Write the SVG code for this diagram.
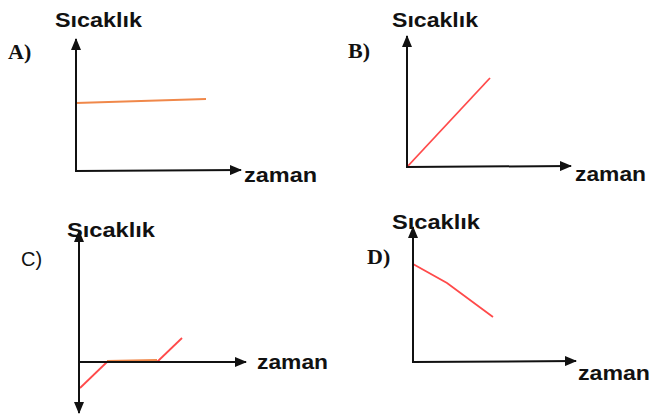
<svg xmlns="http://www.w3.org/2000/svg" width="650" height="419" viewBox="0 0 650 419">
<defs>
<marker id="ah" viewBox="0 0 12 10" refX="11" refY="5" markerWidth="12" markerHeight="10" markerUnits="userSpaceOnUse" orient="auto">
<path d="M0,0 L12,5 L0,10 Z" fill="#111"/>
</marker>
</defs>
<style>
.ax{stroke:#111;stroke-width:2;fill:none;marker-end:url(#ah)}
.ttl{font-family:"Liberation Sans",Arial,sans-serif;font-weight:bold;font-size:21px;fill:#111}
.lbl{font-family:"Liberation Serif","Times New Roman",serif;font-weight:bold;font-size:22px;fill:#111}
.lbls{font-family:"Liberation Sans",Arial,sans-serif;font-size:20px;fill:#111}
.red{stroke:#ff4a4a;stroke-width:1.8;fill:none}
.org{stroke:#f0884a;stroke-width:2;fill:none}
</style>
<rect width="650" height="419" fill="#fff"/>
<g id="panelA">
<text class="ttl" x="55" y="27" textLength="87" lengthAdjust="spacingAndGlyphs">Sıcaklık</text>
<text class="lbl" x="8" y="59">A)</text>
<text class="ttl" x="244" y="182" textLength="73" lengthAdjust="spacingAndGlyphs">zaman</text>
<line class="org" x1="76" y1="103" x2="206" y2="99"/>
</g>
<g id="panelB">
<text class="ttl" x="392" y="27" textLength="86" lengthAdjust="spacingAndGlyphs">Sıcaklık</text>
<text class="lbl" x="348" y="58">B)</text>
<text class="ttl" x="575" y="181" textLength="71" lengthAdjust="spacingAndGlyphs">zaman</text>
<line class="red" x1="407" y1="167" x2="490" y2="78"/>
</g>
<g id="panelC">
<text class="ttl" x="67" y="237" textLength="88" lengthAdjust="spacingAndGlyphs">Sıcaklık</text>
<text class="lbls" x="21" y="266">C)</text>
<text class="ttl" x="257" y="369" textLength="71" lengthAdjust="spacingAndGlyphs">zaman</text>
<polyline class="red" points="80,388 107,362"/>
<line class="org" x1="107" y1="361" x2="157" y2="360"/>
<polyline class="red" points="157,362 182,338"/>
</g>
<g id="panelD">
<text class="ttl" x="392" y="229" textLength="88" lengthAdjust="spacingAndGlyphs">Sıcaklık</text>
<text class="lbl" x="367" y="264">D)</text>
<text class="ttl" x="578" y="380" textLength="72" lengthAdjust="spacingAndGlyphs">zaman</text>
<polyline class="red" points="413,264 447,283 493,317"/>
</g>
<g id="connectors">
<line class="ax" x1="76" y1="172" x2="76" y2="39"/>
<line class="ax" x1="75" y1="171" x2="241" y2="170"/>
<line class="ax" x1="407" y1="168" x2="407" y2="36"/>
<line class="ax" x1="406" y1="167" x2="571" y2="166"/>
<line class="ax" x1="79" y1="362" x2="79" y2="231"/>
<line class="ax" x1="79" y1="362" x2="79" y2="413"/>
<line class="ax" x1="79" y1="362" x2="246" y2="362"/>
<line class="ax" x1="413" y1="363" x2="413" y2="227"/>
<line class="ax" x1="412" y1="362" x2="576" y2="361"/>
</g>
</svg>
